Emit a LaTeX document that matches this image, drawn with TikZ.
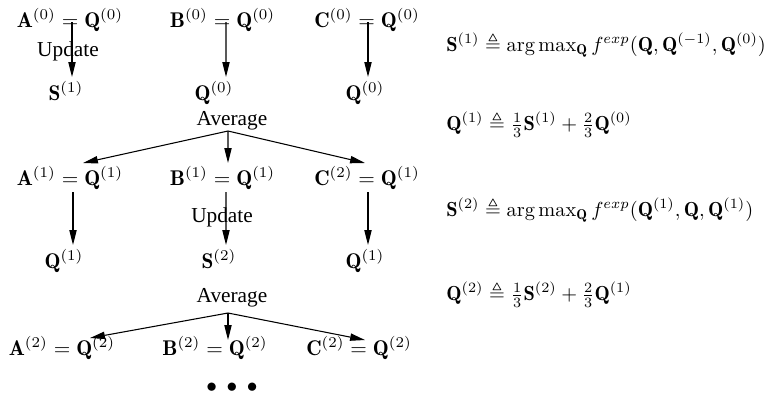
\documentclass[tikz,border=0pt]{standalone}
\usepackage{amssymb}
\usepackage{fontspec}
\newfontfamily\tms{Liberation Serif}
\usetikzlibrary{arrows.meta}
\newcommand{\eqscale}[1]{\scalebox{0.955}{#1}}
\begin{document}
\begin{tikzpicture}[x=0.4695pt,y=-0.4695pt,
  m/.style={inner sep=0pt,anchor=base},
  lbl/.style={inner sep=0pt,anchor=base,font=\tms},
  eq/.style={inner sep=0pt,anchor=base west},
  arr/.style={line width=0.5pt,-{Triangle[length=7pt,width=3.4pt]}}]
\useasboundingbox (0,0) rectangle (771,401);
% row 1
\node[m] (A0) at (70,27) {$\mathbf{A}^{(0)}=\mathbf{Q}^{(0)}$};
\node[m] (B0) at (222.5,27) {$\mathbf{B}^{(0)}=\mathbf{Q}^{(0)}$};
\node[m] (C0) at (367,27) {$\mathbf{C}^{(0)}=\mathbf{Q}^{(0)}$};
\node[lbl] (U1) at (68,56) {Update};
% row 2
\node[m] (S1) at (66,100) {$\mathbf{S}^{(1)}$};
\node[m] (Q0b) at (214,100) {$\mathbf{Q}^{(0)}$};
\node[m] (Q0c) at (365,100) {$\mathbf{Q}^{(0)}$};
\node[lbl] (Av1) at (232,125) {Average};
% row 3
\node[m] (A1) at (70,185) {$\mathbf{A}^{(1)}=\mathbf{Q}^{(1)}$};
\node[m] (B1) at (222.5,185) {$\mathbf{B}^{(1)}=\mathbf{Q}^{(1)}$};
\node[m] (C1) at (367,185) {$\mathbf{C}^{(2)}=\mathbf{Q}^{(1)}$};
\node[lbl] (U2) at (222,222) {Update};
% row 4
\node[m] (Q1a) at (64,268) {$\mathbf{Q}^{(1)}$};
\node[m] (S2) at (219,268) {$\mathbf{S}^{(2)}$};
\node[m] (Q1c) at (365,268) {$\mathbf{Q}^{(1)}$};
\node[lbl] (Av2) at (232,302) {Average};
% row 5
\node[m] (A2) at (62,355) {$\mathbf{A}^{(2)}=\mathbf{Q}^{(2)}$};
\node[m] (B2) at (215,355) {$\mathbf{B}^{(2)}=\mathbf{Q}^{(2)}$};
\node[m] (C2) at (359,355) {$\mathbf{C}^{(2)}=\mathbf{Q}^{(2)}$};
\node[m] (dots) at (232,392) {$\bullet\kern2.3pt\bullet\kern2.3pt\bullet$};
% right equations
\node[eq] (E1) at (446,51) {\eqscale{$\mathbf{S}^{(1)}\triangleq\arg\max_{\mathbf{Q}} f^{exp}(\mathbf{Q},\mathbf{Q}^{(-1)},\mathbf{Q}^{(0)})$}};
\node[eq] (E2) at (446,130) {\eqscale{$\mathbf{Q}^{(1)}\triangleq\frac{1}{3}\mathbf{S}^{(1)}+\frac{2}{3}\mathbf{Q}^{(0)}$}};
\node[eq] (E3) at (446,216) {\eqscale{$\mathbf{S}^{(2)}\triangleq\arg\max_{\mathbf{Q}} f^{exp}(\mathbf{Q}^{(1)},\mathbf{Q},\mathbf{Q}^{(1)})$}};
\node[eq] (E4) at (446,300) {\eqscale{$\mathbf{Q}^{(2)}\triangleq\frac{1}{3}\mathbf{S}^{(2)}+\frac{2}{3}\mathbf{Q}^{(1)}$}};
% arrows row1 -> row2
\draw[arr] ([shift={(2,-5)}]A0.base) -- ([shift={(6,-23)}]S1.base);
\draw[arr] ([shift={(3.5,-5)}]B0.base) -- ([shift={(12,-23)}]Q0b.base);
\draw[arr] ([shift={(1,-5)}]C0.base) -- ([shift={(3,-23)}]Q0c.base);
% average 1
\coordinate (ap1) at ([shift={(-4,6)}]Av1.base);
\draw[arr] (ap1) -- ([shift={(13,-22)}]A1.base);
\draw[arr] (ap1) -- ([shift={(5.5,-22)}]B1.base);
\draw[arr] (ap1) -- ([shift={(-2,-22)}]C1.base);
% arrows row3 -> row4
\draw[arr] ([shift={(3,7)}]A1.base) -- ([shift={(9,-23)}]Q1a.base);
\draw[arr] ([shift={(3.5,7)}]B1.base) -- ([shift={(7,-23)}]S2.base);
\draw[arr] ([shift={(1,7)}]C1.base) -- ([shift={(3,-23)}]Q1c.base);
% average 2
\coordinate (ap2) at ([shift={(-4,11)}]Av2.base);
\draw[arr] (ap2) -- ([shift={(28,-17)}]A2.base);
\draw[arr] (ap2) -- ([shift={(13,-15)}]B2.base);
\draw[arr] (ap2) -- ([shift={(6,-15)}]C2.base);
\end{tikzpicture}
\end{document}
